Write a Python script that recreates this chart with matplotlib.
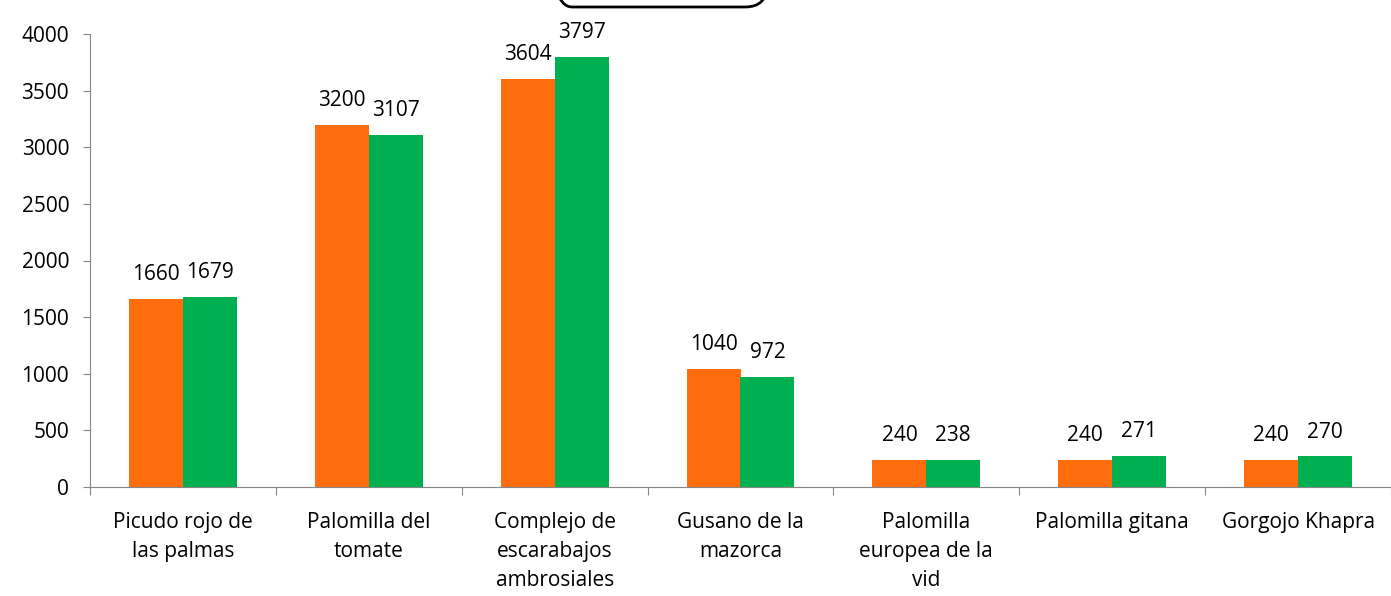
import matplotlib
matplotlib.use("Agg")
import matplotlib.pyplot as plt
from matplotlib.patches import FancyBboxPatch
import numpy as np

categories = ["Picudo rojo de\nlas palmas", "Palomilla del\ntomate", "Complejo de\nescarabajos\nambrosiales",
              "Gusano de la\nmazorca", "Palomilla\neuropea de la\nvid", "Palomilla gitana", "Gorgojo Khapra"]
serie_a = [1660, 3200, 3604, 1040, 240, 240, 240]
serie_b = [1679, 3107, 3797, 972, 238, 271, 270]

color_a = "#FF6D0D"
color_b = "#00B050"

plt.rcParams['font.family'] = ['Open Sans', 'DejaVu Sans']

fig = plt.figure(figsize=(13.91, 5.96), dpi=100)
ax = fig.add_axes([90 / 1391, 1 - 487 / 596, 1301 / 1391, 453 / 596])

x = np.arange(len(categories))
w = 0.29
bars_a = ax.bar(x - w / 2, serie_a, w, color=color_a)
bars_b = ax.bar(x + w / 2, serie_b, w, color=color_b)

for bars in (bars_a, bars_b):
    for b in bars:
        ax.annotate(str(int(b.get_height())), (b.get_x() + b.get_width() / 2, b.get_height()),
                    xytext=(0, 10), textcoords="offset points", ha="center", va="bottom", fontsize=15)

ax.set_xlim(-0.5, len(categories) - 0.5)
ax.set_ylim(0, 4000)
ax.set_yticks(np.arange(0, 4001, 500))
ax.tick_params(axis="y", labelsize=15, length=5, color="#868686", pad=10)

ax.set_xticks(np.arange(-0.5, len(categories), 1.0))
ax.set_xticklabels([])
ax.tick_params(axis="x", length=6, color="#868686")
for i, c in enumerate(categories):
    ax.text(i, -0.055, c, transform=ax.get_xaxis_transform(), ha="center", va="top",
            fontsize=15, linespacing=1.5)

for s in ("top", "right"):
    ax.spines[s].set_visible(False)
for s in ("left", "bottom"):
    ax.spines[s].set_color("#868686")

# empty rounded box cut off at the top edge
box = FancyBboxPatch((5.50, 5.89), 2.17, 1.0, boxstyle="round,pad=0,rounding_size=0.22",
                     transform=fig.dpi_scale_trans, fill=False, edgecolor="black", linewidth=2, clip_on=False)
fig.patches.append(box)

fig.savefig("out.png", dpi=100)
